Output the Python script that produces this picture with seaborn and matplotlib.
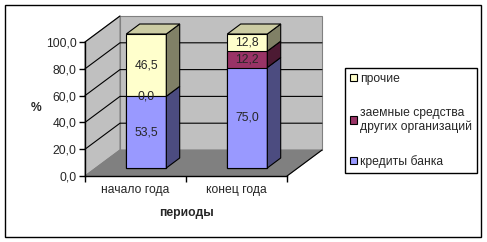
import numpy as np
import pandas as pd
import matplotlib
matplotlib.use("Agg")
import matplotlib.pyplot as plt
import seaborn as sns
from matplotlib.patches import Polygon, Patch, Rectangle

# ---- data ----
categories = ["начало года", "конец года"]
series_names = ["кредиты банка", "заемные средства\nдругих организаций", "прочие"]
credits = [53.5, 75.0]
loans = [0.0, 12.2]
other = [46.5, 12.8]
yticks = [0, 20, 40, 60, 80, 100]
ytick_labels = ["0,0", "20,0", "40,0", "60,0", "80,0", "100,0"]
series_colors = ["#9999FF", "#993366", "#FFFFCC"]
side_colors = ["#4C4C80", "#4C1A33", "#808066"]
top_color = "#CCCCA3"

FS = 8.7
sns.set_style("white")
plt.rcParams["font.family"] = ["Liberation Sans", "DejaVu Sans"]
plt.rcParams["font.size"] = FS

W, H = 487, 242
fig = plt.figure(figsize=(W / 100, H / 100), dpi=100)
fig.patch.set_facecolor("white")
ax = fig.add_axes([85 / W, 66 / H, 202 / W, 134 / H])
ax.set_facecolor("none")

# pixel -> data unit conversions for the pseudo-3D depth
ux = 2 / 202
uy = 100 / 134
FX, FY = 10.8 * ux, 8 * uy     # bar front plane
BX, BY = 24.2 * ux, 18 * uy    # bar back plane
WX, WY = 35 * ux, 26 * uy      # back wall

x0, x1 = -0.5, 1.5
# walls and floor
wall_kw = dict(facecolor="#C0C0C0", edgecolor="#808080", lw=0.8, clip_on=False, zorder=0)
ax.add_patch(Polygon([(x0 + WX, WY), (x1 + WX, WY), (x1 + WX, 100 + WY), (x0 + WX, 100 + WY)], **wall_kw))
ax.add_patch(Polygon([(x0, 0), (x0 + WX, WY), (x0 + WX, 100 + WY), (x0, 100)], **wall_kw))
ax.add_patch(Polygon([(x0, 0), (x1, 0), (x1 + WX, WY), (x0 + WX, WY)],
                     facecolor="#808080", edgecolor="#808080", lw=0.8, clip_on=False, zorder=0))
ax.plot([x1, x1 + WX], [0, WY], color="black", lw=0.8, clip_on=False, zorder=0.5)
for v in yticks[1:-1]:
    ax.plot([x0, x0 + WX, x1 + WX], [v, v + WY, v + WY], color="black", lw=0.8,
            clip_on=False, zorder=0.5)
ax.plot([x0, x0 + WX], [100, 100 + WY], color="black", lw=0.8, clip_on=False, zorder=0.5)

# stacked bars via layered cumulative totals
cum1 = np.array(credits)
cum2 = cum1 + np.array(loans)
cum3 = cum2 + np.array(other)
layers = [cum3, cum2, cum1]
layer_colors = [series_colors[2], series_colors[1], series_colors[0]]
for tops, col in zip(layers, layer_colors):
    df = pd.DataFrame({"period": categories, "top": tops})
    sns.barplot(data=df, x="period", y="top", color=col, width=40 / 101, ax=ax,
                edgecolor="black", linewidth=0.8, saturation=1, zorder=2)

for p in ax.patches:
    if isinstance(p, Rectangle):
        p.set_x(p.get_x() + FX)
        p.set_y(p.get_y() + FY)
        p.set_clip_on(False)

bars = [p for p in ax.patches if isinstance(p, Rectangle)][:2]
seg_bounds = [np.zeros(2), cum1, cum2, cum3]
values = [credits, loans, other]
for i, bar in enumerate(bars):
    xl = bar.get_x() - FX
    w = bar.get_width()
    xr = xl + w
    for s in range(3):
        b, t = seg_bounds[s][i], seg_bounds[s + 1][i]
        if t > b:
            ax.add_patch(Polygon([(xr + FX, b + FY), (xr + FX, t + FY), (xr + BX, t + BY), (xr + BX, b + BY)],
                                 facecolor=side_colors[s], edgecolor="black", lw=0.8,
                                 clip_on=False, zorder=2))
        ax.text(xl + w / 2 + FX, (b + t) / 2 + FY, f"{values[s][i]:.1f}".replace(".", ","),
                ha="center", va="center", fontsize=FS, zorder=3)
    T = cum3[i]
    ax.add_patch(Polygon([(xl + FX, T + FY), (xr + FX, T + FY), (xr + BX, T + BY), (xl + BX, T + BY)],
                         facecolor=top_color, edgecolor="black", lw=0.8, clip_on=False, zorder=2))

# axes styling
ax.set_xlim(x0, x1)
ax.set_ylim(0, 100)
for s in ["top", "right"]:
    ax.spines[s].set_visible(False)
for s in ["left", "bottom"]:
    ax.spines[s].set_color("black")
    ax.spines[s].set_linewidth(1)
    ax.spines[s].set_zorder(4)
ax.set_yticks(yticks)
ax.set_yticklabels(ytick_labels)
ax.set_xticks([-0.5, 0.5, 1.5])
ax.set_xticklabels(["", "", ""])
ax.set_xticks([0, 1], minor=True)
ax.set_xticklabels(categories, minor=True)
ax.tick_params(axis="y", which="major", direction="out", length=4, width=1, color="black",
               pad=2, labelsize=FS, left=True)
ax.tick_params(axis="x", which="major", direction="out", length=4, width=1, color="black",
               bottom=True)
ax.tick_params(axis="x", which="minor", length=0, pad=6, labelsize=FS)

ax.set_ylabel("%", rotation=0, fontweight="bold", fontsize=FS, ha="center", va="center")
ax.yaxis.set_label_coords((36 - 85) / 202, (176 - 108) / 134)
ax.set_xlabel("периоды", fontweight="bold", fontsize=FS, ha="center", va="center")
ax.xaxis.set_label_coords((186 - 85) / 202, (176 - 213) / 134)

# legend
handles = [Patch(facecolor=series_colors[k], edgecolor="black", lw=0.8) for k in [2, 1, 0]]
labels = [series_names[k] for k in [2, 1, 0]]
leg = fig.legend(handles, labels, loc="upper right", bbox_to_anchor=(477 / W, 1 - 68 / H),
                 frameon=True, fancybox=False, framealpha=1, edgecolor="black",
                 fontsize=FS, borderpad=0.4, labelspacing=1.8, handlelength=0.6,
                 handleheight=0.6, handletextpad=0.25, borderaxespad=0)
leg.get_frame().set_linewidth(1)

# outer chart border
fig.patches.append(Rectangle((5 / W, 5 / H), 476 / W, 232 / H, transform=fig.transFigure,
                             fill=False, edgecolor="black", lw=1))

fig.savefig("out.png", dpi=100)
